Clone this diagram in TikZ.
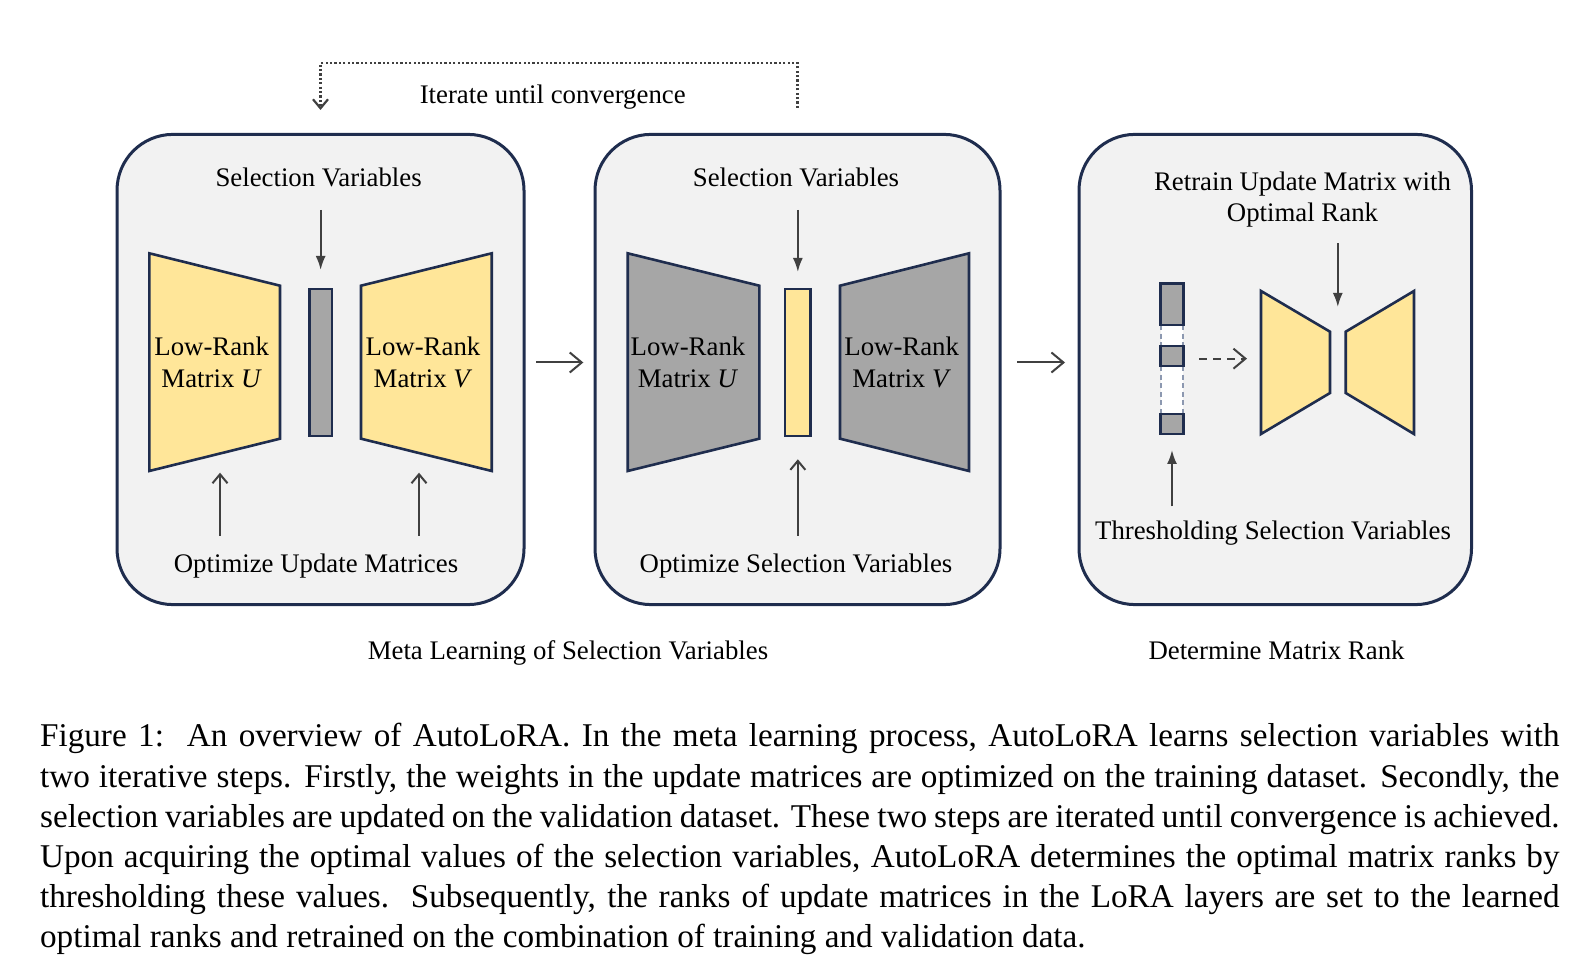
\documentclass[tikz,border=0pt]{standalone}
\usepackage{fontspec}
\setmainfont{Liberation Serif}
\usetikzlibrary{arrows.meta}
\definecolor{navy}{RGB}{31,45,78}
\definecolor{panelfill}{RGB}{242,242,242}
\definecolor{matyellow}{RGB}{255,230,153}
\definecolor{matgray}{RGB}{166,166,166}
\definecolor{arrowgray}{RGB}{64,64,64}
\definecolor{dashblue}{RGB}{140,152,176}
\newcommand\dfont{\fontsize{13.4}{15.8}\selectfont}
\newcommand\capline[1]{\hbox to 759.7pt{#1}}
\begin{document}
\begin{tikzpicture}[x=0.5pt,y=-0.5pt,
  panel/.style={draw=navy, line width=1.5pt, fill=panelfill, rounded corners=28pt, inner sep=0, outer sep=0},
  mat/.style={draw=navy, line width=1.3pt, line join=miter},
  barbox/.style={draw=navy, line width=1.3pt, inner sep=0, outer sep=0},
  lbl/.style={font=\dfont, inner sep=0, anchor=base},
  mlbl/.style={font=\dfont, inner sep=0, align=center},
  downarr/.style={draw=arrowgray, line width=1pt, -{Latex[length=7pt,width=5pt]}},
  openarr/.style={draw=arrowgray, line width=1pt, -{Straight Barb[length=6pt,width=10pt]}},
  uparr/.style={draw=arrowgray, line width=1pt, -{Straight Barb[length=4.5pt,width=7.5pt]}},
  dotarr/.style={draw=arrowgray, line width=1.1pt, dash pattern=on 1.1pt off 1.1pt, -{Straight Barb[length=4.5pt,width=7.5pt]}},
]
\useasboundingbox (0,0) rectangle (1596,972);

% panels
\node[panel, minimum width=203.5pt, minimum height=235.1pt] (p1) at (320.5,369.5) {};
\node[panel, minimum width=202.5pt, minimum height=235.1pt] (p2) at (797.5,369.5) {};
\node[panel, minimum width=196.25pt, minimum height=235.1pt] (p3) at (1275.25,369.5) {};

% panel 1 matrices
\draw[mat, fill=matyellow] (149.3,253.3) -- (280,285.7) -- (280,438.7) -- (149.3,471) -- cycle;
\draw[mat, fill=matyellow] (361,285.7) -- (491.7,253.3) -- (491.7,471) -- (361,438.7) -- cycle;
\node[barbox, fill=matgray, minimum width=11.35pt, minimum height=73.5pt] (b1) at (320.65,362.5) {};
\node[mlbl] (lu1) at (211.7,362.5) {Low-Rank\\Matrix \textit{U}};
\node[mlbl] (lv1) at (423,362.5) {Low-Rank\\Matrix \textit{V}};

% panel 2 matrices
\draw[mat, fill=matgray] (627.7,253.3) -- (759.3,285.7) -- (759.3,438.7) -- (627.7,471) -- cycle;
\draw[mat, fill=matgray] (840,285.7) -- (969,253.3) -- (969,471) -- (840,438.7) -- cycle;
\node[barbox, fill=matyellow, minimum width=12.85pt, minimum height=73.5pt] (b2) at (797.85,362.5) {};
\node[mlbl] (lu2) at (688,362.5) {Low-Rank\\Matrix \textit{U}};
\node[mlbl] (lv2) at (901.7,362.5) {Low-Rank\\Matrix \textit{V}};

% panel 3
\draw[mat, fill=matyellow] (1261,291) -- (1330,331.7) -- (1330,393) -- (1261,434) -- cycle;
\draw[mat, fill=matyellow] (1345.7,331.7) -- (1414,291) -- (1414,434) -- (1345.7,393) -- cycle;
\coordinate (t3l) at (1261,362.5);
\coordinate (t3top) at (1337.8,307);
\node[inner sep=0, outer sep=0, minimum width=11.3pt, minimum height=75.35pt] (b3) at (1172,358.65) {};
\fill[white] (1160.7,325) rectangle (1183.3,346);
\fill[white] (1160.7,366) rectangle (1183.3,414);
\draw[dashblue, line width=1pt, dash pattern=on 2.5pt off 1.8pt] (1160.7,325) -- (1160.7,346) (1183.3,325) -- (1183.3,346)
  (1160.7,366) -- (1160.7,414) (1183.3,366) -- (1183.3,414);
\node[barbox, fill=matgray, minimum width=11.3pt, minimum height=20.85pt] (s1) at (1172,304.15) {};
\node[barbox, fill=matgray, minimum width=11.3pt, minimum height=10pt] (s2) at (1172,356) {};
\node[barbox, fill=matgray, minimum width=11.3pt, minimum height=10pt] (s3) at (1172,424) {};

% labels
\node[lbl] (iter) at (552.7,103.5) {Iterate until convergence};
\node[lbl] (sv1) at (318.6,186.7) {Selection Variables};
\node[lbl] (sv2) at (796,186.7) {Selection Variables};
\node[lbl] (opt1) at (316,572.7) {Optimize Update Matrices};
\node[lbl] (opt2) at (796,572.7) {Optimize Selection Variables};
\node[mlbl] (rt) at (1302.5,199.7) {Retrain Update Matrix with\\Optimal Rank};
\node[lbl] (th) at (1273,539.3) {Thresholding Selection Variables};
\node[lbl] (meta) at (568,659.3) {Meta Learning of Selection Variables};
\node[lbl] (det) at (1276.5,659.3) {Determine Matrix Rank};

% arrows
\coordinate (u1tip) at (220,472.7);
\coordinate (v1tip) at (419,472.7);
\draw[downarr, shorten <=11.15pt, shorten >=9.5pt] (sv1.south -| b1.north) -- (b1.north);
\draw[downarr, shorten <=11.15pt, shorten >=8.5pt] (sv2.south -| b2.north) -- (b2.north);
\draw[uparr, shorten <=9pt] (opt1.north -| u1tip) -- (u1tip);
\draw[uparr, shorten <=9pt] (opt1.north -| v1tip) -- (v1tip);
\draw[uparr, shorten <=9pt, shorten >=11.65pt] (opt2.north -| b2.south) -- (b2.south);
\draw[openarr, shorten <=6.2pt, shorten >=5.85pt] (p1.east |- b1.center) -- (p2.west |- b1.center);
\draw[openarr, shorten <=8.5pt, shorten >=7pt] (p2.east |- b2.center) -- (p3.west |- b2.center);
\draw[downarr, shorten <=7.7pt] (rt.south -| t3top) -- (t3top);
\draw[downarr, shorten <=7pt, shorten >=8pt] (th.north -| b3.south) -- (b3.south);
\draw[openarr, dash pattern=on 4pt off 3pt, shorten <=7.85pt, shorten >=7pt] (b3.east) -- (b3.east -| t3l);
\draw[dotarr] ([yshift=13.2pt]p2.north) -- ++(0,-45) -| ([yshift=12.2pt]p1.north);

% caption
\node[anchor=north west, inner sep=0, align=left, font=\fontsize{16.6}{20.05}\selectfont] (cap) at (39.7,718.5)
{\frenchspacing\spaceskip=.25em plus .25em minus .14em
\capline{\strut Figure 1:\ \ An overview of AutoLoRA. In the meta learning process, AutoLoRA learns selection variables with}\\
\capline{two iterative steps. Firstly, the weights in the update matrices are optimized on the training dataset. Secondly, the}\\
\capline{selection variables are updated on the validation dataset. These two steps are iterated until convergence is achieved.}\\
\capline{Upon acquiring the optimal values of the selection variables, AutoLoRA determines the optimal matrix ranks by}\\
\capline{thresholding these values.\ \ Subsequently, the ranks of update matrices in the LoRA layers are set to the learned}\\
optimal ranks and retrained on the combination of training and validation data.};
\end{tikzpicture}
\end{document}
